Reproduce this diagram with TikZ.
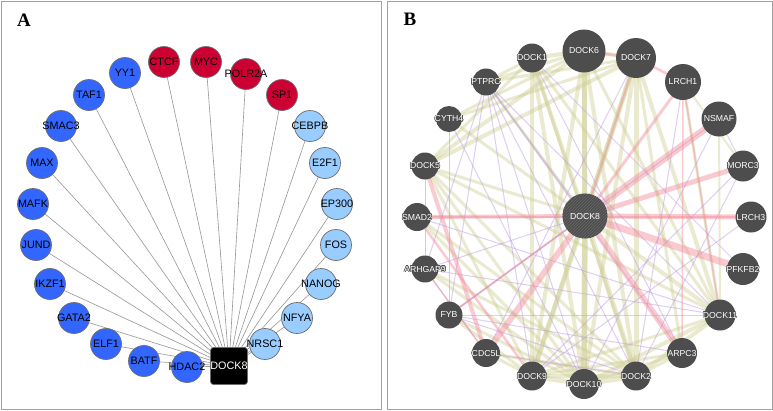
\documentclass[tikz,border=0pt]{standalone}
\usepackage{fontspec}
\setmainfont{Liberation Sans}
\newfontfamily\panelfont{Liberation Serif}
\usetikzlibrary{patterns,backgrounds}
\definecolor{ablue}{RGB}{51,102,255}
\definecolor{ared}{RGB}{204,0,51}
\definecolor{alight}{RGB}{153,204,255}
\definecolor{nborder}{RGB}{110,110,110}
\definecolor{aedgec}{RGB}{150,150,150}
\definecolor{framec}{RGB}{160,160,160}
\definecolor{bgrey}{RGB}{77,77,77}
\definecolor{haloc}{RGB}{75,75,75}
\definecolor{hatchc}{RGB}{105,105,105}
\definecolor{khaki}{RGB}{205,205,145}
\definecolor{pinkc}{RGB}{242,140,155}
\definecolor{purplec}{RGB}{190,160,225}
\definecolor{bluec}{RGB}{150,180,230}
\newcommand\zw[1]{\makebox[0pt]{#1}}
\tikzset{
  anode/.style={circle, fill=#1, draw=nborder, line width=0.7pt, minimum size=31pt, inner sep=0pt,
    font=\fontsize{10.8}{12}\selectfont, text=black},
  aedge/.style={draw=aedgec, line width=0.6pt},
  bnode/.style={circle, fill=bgrey, draw=none, minimum size=#1, inner sep=0pt},
  blab/.style={font=\fontsize{8.7}{10}\selectfont, inner sep=0pt},
  kh/.style={draw=khaki, opacity=0.42, line width=#1},
  pk/.style={draw=pinkc, opacity=0.45, line width=#1},
  pu/.style={draw=purplec, opacity=0.5, line width=#1},
  bl/.style={draw=bluec, opacity=0.6, line width=#1},
  panel/.style={font=\panelfont\bfseries\fontsize{19}{22}\selectfont}
}
\newcommand\hlab[2]{%
  \foreach \dx/\dy in {0.6/0,-0.6/0,0/0.6,0/-0.6,0.42/0.42,-0.42/0.42,0.42/-0.42,-0.42/-0.42}{%
    \node[blab,text=haloc] at ([shift={(\dx pt,\dy pt)}]#1.center) {#2};}
  \node[blab,text=white] at (#1.center) {#2};}
\begin{document}
\begin{tikzpicture}[x=1pt,y=-1pt]
\useasboundingbox (0,0) rectangle (773,410);
\begin{scope}[on background layer]
\fill[white] (0,0) rectangle (773,410);
\end{scope}
\draw[framec, line width=1pt] (1,1) rectangle (381,409);
\draw[framec, line width=1pt] (387,1) rectangle (772,409);
\node[panel] (la) at (24,20) {A};
\node[panel] (lb) at (410,19) {B};

% ---------- Panel A ----------
\node[anode=ared] (ctcf) at (164,62) {\zw{CTCF}};
\node[anode=ared] (myc) at (206,62) {\zw{MYC}};
\node[anode=ared] (polr) at (246,74) {\zw{POLR2A}};
\node[anode=ared] (sp1) at (282,95) {\zw{SP1}};
\node[anode=alight] (cebpb) at (310,126) {\zw{CEBPB}};
\node[anode=alight] (e2f1) at (325,163) {\zw{E2F1}};
\node[anode=alight] (ep300) at (337,204) {\zw{EP300}};
\node[anode=alight] (fos) at (336,245) {\zw{FOS}};
\node[anode=alight] (nanog) at (321,284) {\zw{NANOG}};
\node[anode=alight] (nfya) at (297,318) {\zw{NFYA}};
\node[anode=alight] (nrsc) at (265,344) {\zw{NRSC1}};
\node[anode=ablue] (hdac) at (187,367) {\zw{HDAC2}};
\node[anode=ablue] (batf) at (144,361) {\zw{BATF}};
\node[anode=ablue] (elf1) at (106,344) {\zw{ELF1}};
\node[anode=ablue] (gata) at (74,318) {\zw{GATA2}};
\node[anode=ablue] (ikzf) at (50,284) {\zw{IKZF1}};
\node[anode=ablue] (jund) at (36,245) {\zw{JUND}};
\node[anode=ablue] (mafk) at (33,204) {\zw{MAFK}};
\node[anode=ablue] (max) at (42,163) {\zw{MAX}};
\node[anode=ablue] (smac) at (61,126) {\zw{SMAC3}};
\node[anode=ablue] (taf1) at (89,95) {\zw{TAF1}};
\node[anode=ablue] (yy1) at (125,73) {\zw{YY1}};
\node[rectangle, rounded corners=3pt, fill=black, draw=nborder, line width=0.7pt,
  minimum size=37pt, inner sep=0pt, text=white, font=\fontsize{10.8}{12}\selectfont] (d8a) at (229,366) {\zw{DOCK8}};
\begin{scope}[on background layer]
\foreach \n in {ctcf,myc,polr,sp1,cebpb,e2f1,ep300,fos,nanog,nfya,nrsc,hdac,batf,elf1,gata,ikzf,jund,mafk,max,smac,taf1,yy1}
  \draw[aedge] (\n.center) -- (d8a.center);
\end{scope}

% ---------- Panel B ----------
\node[bnode=29pt] (d1) at (532,58) {};
\node[bnode=43pt] (d6) at (584,51) {};
\node[bnode=40pt] (d7) at (636,58) {};
\node[bnode=36pt] (lr1) at (683,82) {};
\node[bnode=35pt] (ns) at (719,119) {};
\node[bnode=31pt] (mo) at (743,166) {};
\node[bnode=31pt] (lr3) at (751,217) {};
\node[bnode=32pt] (pf) at (743,269) {};
\node[bnode=31pt] (d11) at (720,315) {};
\node[bnode=30pt] (ar) at (682,353) {};
\node[bnode=29pt] (d2) at (636,376) {};
\node[bnode=30pt] (d10) at (584,384) {};
\node[bnode=29pt] (d9) at (532,376) {};
\node[bnode=28pt] (cd) at (486,353) {};
\node[bnode=27pt] (fy) at (449,315) {};
\node[bnode=27pt] (arh) at (425,269) {};
\node[bnode=28pt] (sm) at (417,217) {};
\node[bnode=27pt] (d5) at (425,166) {};
\node[bnode=26pt] (cy) at (449,119) {};
\node[bnode=27pt] (pt) at (486,82) {};
\node[bnode=45pt] (d8) at (585,216) {};
\fill[pattern=north east lines, pattern color=hatchc] (d8.center) circle (22.5pt);

\begin{scope}[on background layer]
% co-expression (khaki)
\foreach \a/\b/\w in {d8/d1/4, d8/d6/5, d8/d7/5, d8/d9/5, d8/d10/6, d8/d2/5, d8/d11/4, d8/d5/3, d8/pt/3, d8/cy/3,
  d1/d6/4, d6/d7/4, d1/d9/4, d1/d10/4, d1/d2/3, d6/d9/4, d6/d10/5, d6/d2/4, d7/d9/4, d7/d10/4, d7/d2/5, d7/d11/4, d7/ar/3,
  d5/d6/4, d5/d7/4, d5/d1/3, d5/d10/3, d5/d2/3, d5/d9/3, d5/d11/3, cy/d7/3, cy/d6/3, pt/d7/3, pt/d6/3, pt/d1/3,
  d9/d10/5, d10/d2/5, d9/d2/4, d2/d11/4, d10/d11/4, d9/d11/3, d9/ar/3, d10/ar/3, d2/ar/3,
  d11/d6/3, d11/d1/3, lr1/d11/3, lr1/mo/2, ns/d11/2, fy/d9/3, fy/d10/3, sm/d2/3, arh/d10/3, sm/d10/3, cd/d9/3, cd/d2/3, arh/d2/3}
  \draw[kh=\w pt] (\a.center) -- (\b.center);
% co-localisation (purple)
\foreach \a/\b in {pt/fy, pt/arh, pt/d2, pt/d8, pt/d10, pt/d11, pt/ar, pt/d9, cy/d10, arh/d8, fy/d8, fy/d11, sm/d11,
  arh/d11, lr1/d2, ns/d10, mo/d9, mo/ns, cd/d2, fy/d2, fy/ar, d1/ar, d1/pf, mo/d2, lr3/d9, arh/cd, d7/cd, ns/fy}
  \draw[pu=1pt] (\a.center) -- (\b.center);
% pathway (blue)
\draw[bl=1pt] (cy.center) -- (fy.center);
\draw[bl=0.8pt] (d5.center) -- (arh.center);
% physical interactions (pink)
\foreach \a/\b/\w in {d8/lr1/3, d8/ns/7, d8/mo/5, d8/lr3/5, d8/pf/7, d8/ar/6, d8/sm/4, d8/cd/6, d8/d7/2,
  d6/d7/2.5, d7/lr1/2.5, lr1/d11/1.5, lr1/ar/1.5, d5/cd/4, sm/d9/2.5, arh/cd/1.5, lr3/sm/1.2, d8/fy/2}
  \draw[pk=\w pt] (\a.center) -- (\b.center);
\end{scope}

\hlab{d1}{DOCK1}
\hlab{d6}{DOCK6}
\hlab{d7}{DOCK7}
\hlab{lr1}{LRCH1}
\hlab{ns}{NSMAF}
\hlab{mo}{MORC3}
\hlab{lr3}{LRCH3}
\hlab{pf}{PFKFB2}
\hlab{d11}{DOCK11}
\hlab{ar}{ARPC3}
\hlab{d2}{DOCK2}
\hlab{d10}{DOCK10}
\hlab{d9}{DOCK9}
\hlab{cd}{CDC5L}
\hlab{fy}{FYB}
\hlab{arh}{ARHGAP9}
\hlab{sm}{SMAD2}
\hlab{d5}{DOCK5}
\hlab{cy}{CYTH4}
\hlab{pt}{PTPRC}
\node[blab,text=white] (d8t) at (d8.center) {DOCK8};
\end{tikzpicture}
\end{document}
